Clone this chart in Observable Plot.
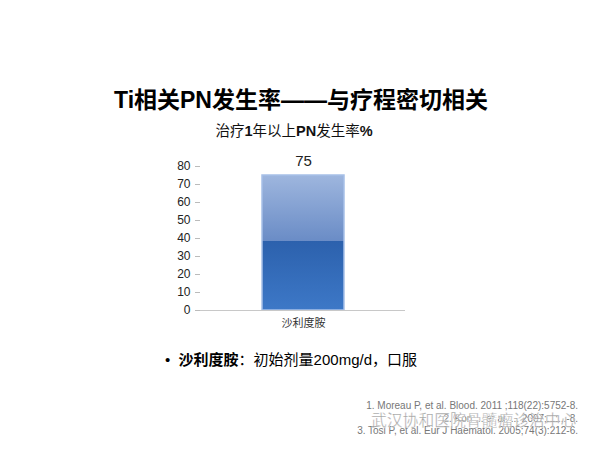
<!DOCTYPE html>
<html>
<head>
<meta charset="utf-8">
<script src="https://cdn.jsdelivr.net/npm/d3@7"></script>
<script src="https://cdn.jsdelivr.net/npm/@observablehq/plot@0.6"></script>
<style>
  body { margin: 0; background: #fff; }
  #page { position: relative; width: 600px; height: 450px; overflow: hidden; background: #fff;
          font-family: "Liberation Sans", Arial, "Noto Sans CJK SC", sans-serif; color: #000; }
  .abs { position: absolute; white-space: nowrap; }
  #title { left: 0; width: 602px; top: 81px; text-align: center; font-size: 23px; font-weight: bold;
           font-family: "Liberation Sans", Arial, "Noto Sans CJK SC", sans-serif; }
  #subtitle { left: 0; width: 588px; top: 119px; text-align: center; font-size: 14.5px; color: #111; }
  #chart { position: absolute; left: 0; top: 145px; }
  #bullet { left: 165px; top: 348px; font-size: 15px; color: #000; }
  #refs { right: 22px; top: 400px; text-align: right; font-size: 10px; line-height: 12.5px; color: #777; }
  #wm { left: 371px; top: 408px; font-size: 15.8px; color: rgba(130,130,130,0.75); letter-spacing: 0px;
        font-family: "Noto Sans CJK SC", sans-serif; -webkit-text-stroke: 0.4px rgba(255,255,255,0.9); }
</style>
</head>
<body>
<div id="page">
  <div id="title" class="abs">Ti相关PN发生率——与疗程密切相关</div>
  <div id="subtitle" class="abs">治疗<b>1</b>年以上<b>PN</b>发生率<b>%</b></div>
  <div id="chart"></div>
  <div id="bullet" class="abs">•&nbsp;&nbsp;<b>沙利度胺</b>：初始剂量200mg/d，口服</div>
  <div id="refs" class="abs">
    <div>1. Moreau P, et al. Blood. 2011 ;118(22):5752-8.</div>
    <div>2. Kon ... et al. ... 2007;...:...-8.</div>
    <div>3. Tosi P, et al. Eur J Haematol. 2005;74(3):212-6.</div>
  </div>
  <div id="wm" class="abs">武汉协和医院骨髓瘤诊治中心</div>
</div>
<script>
const categories = ["沙利度胺"];
const values = [75];
const yTicks = [0, 10, 20, 30, 40, 50, 60, 70, 80];

const data = categories.map((c, i) => ({ category: c, value: values[i] }));

const defs = () => {
  const ns = "http://www.w3.org/2000/svg";
  const d = document.createElementNS(ns, "defs");
  d.innerHTML = `
    <linearGradient id="barGrad" x1="0" y1="0" x2="0" y2="1">
      <stop offset="0" stop-color="#9eb6de"/>
      <stop offset="0.49" stop-color="#6a8cc6"/>
      <stop offset="0.49" stop-color="#2c61ad"/>
      <stop offset="1" stop-color="#3d78c7"/>
    </linearGradient>`;
  return d;
};

const chart = Plot.plot({
  width: 600,
  height: 190,
  marginTop: 21,
  marginBottom: 25,
  marginLeft: 200,
  marginRight: 195,
  style: { fontFamily: "Liberation Sans, Arial, 'Noto Sans CJK SC', sans-serif", background: "transparent" },
  x: { domain: categories, padding: 0.4286, label: null },
  y: { domain: [0, 80], label: null },
  marks: [
    defs,
    Plot.axisY({ ticks: yTicks, tickSize: 5, tickPadding: 5, fontSize: 12, stroke: "#bbb", color: "#222", tickFormat: d => d }),
    Plot.ruleX([0], { frameAnchor: "left", stroke: "#c8c8c8" }),
    Plot.axisX({ tickSize: 0, tickPadding: 9, fontSize: 11, color: "#333", fontFamily: "Noto Sans CJK SC, sans-serif" }),
    Plot.barY(data, { x: "category", y: "value", fill: "url(#barGrad)", stroke: "#a7c0e8", strokeWidth: 1.5 }),
    Plot.ruleY([0], { stroke: "#c8c8c8" }),
    Plot.text(data, { x: "category", y: "value", text: d => String(d.value), dy: -14, fontSize: 15, fill: "#222" })
  ]
});
document.getElementById("chart").appendChild(chart);
</script>
</body>
</html>
